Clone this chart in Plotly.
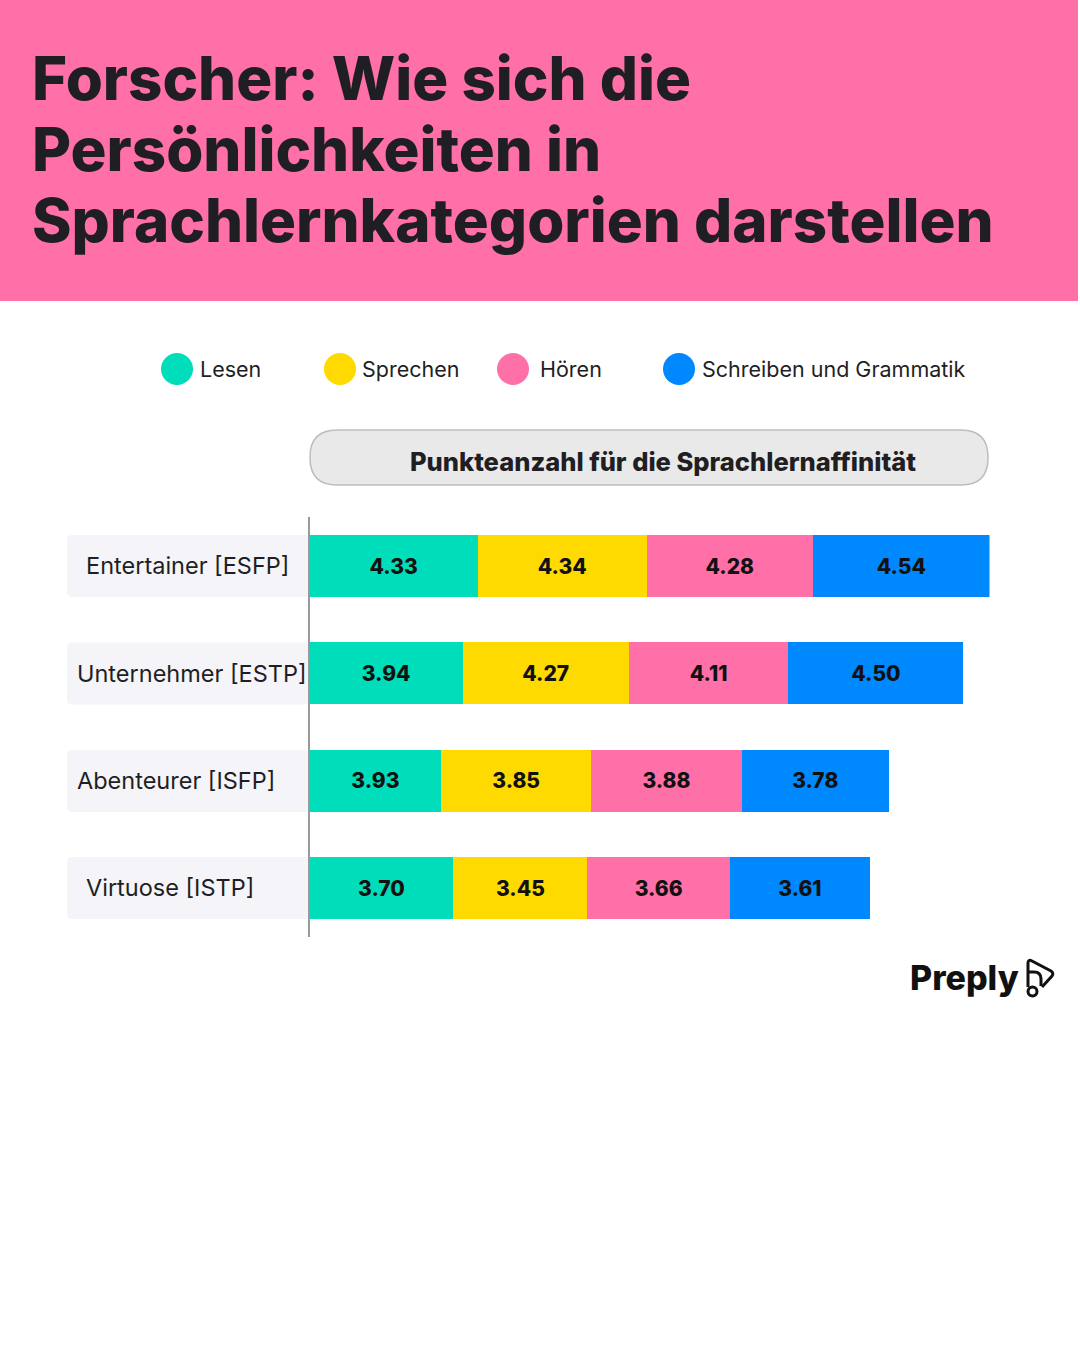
import plotly.graph_objects as go

W, H = 1080, 1350

title_lines = ["Forscher: Wie sich die", "Persönlichkeiten in", "Sprachlernkategorien darstellen"]
header_text = "Punkteanzahl für die Sprachlernaffinität"
categories = ["Entertainer [ESFP]", "Unternehmer [ESTP]", "Abenteurer [ISFP]", "Virtuose [ISTP]"]
series_names = ["Lesen", "Sprechen", "Hören", "Schreiben und Grammatik"]
# bar lengths as drawn in the picture
lesen = [4.33, 3.94, 3.39, 3.70]
sprechen = [4.34, 4.27, 3.85, 3.45]
hoeren = [4.28, 4.11, 3.88, 3.66]
schreiben = [4.54, 4.50, 3.78, 3.61]
# printed labels (Abenteurer/Lesen says 3.93 although its bar is shorter)
lesen_labels = ["4.33", "3.94", "3.93", "3.70"]
sprechen_labels = ["4.34", "4.27", "3.85", "3.45"]
hoeren_labels = ["4.28", "4.11", "3.88", "3.66"]
schreiben_labels = ["4.54", "4.50", "3.78", "3.61"]
colors = ["#00DDBB", "#FFDA00", "#FF6FA8", "#0088FF"]

FONT = "Inter"
DARK = "#1f1f23"


def px(x):
    return x / W


def py(y):
    return 1 - y / H


def pt(x, y):
    return f"{px(x):.5f},{py(y):.5f}"


def rounded(x0, y0, x1, y1, r):
    # rounded rectangle as svg path, pixel coords -> paper
    return (f"M{pt(x0 + r, y0)} L{pt(x1 - r, y0)} Q{pt(x1, y0)} {pt(x1, y0 + r)} "
            f"L{pt(x1, y1 - r)} Q{pt(x1, y1)} {pt(x1 - r, y1)} L{pt(x0 + r, y1)} "
            f"Q{pt(x0, y1)} {pt(x0, y1 - r)} L{pt(x0, y0 + r)} Q{pt(x0, y0)} {pt(x0 + r, y0)} Z")


fig = go.Figure()

all_series = [lesen, sprechen, hoeren, schreiben]
all_labels = [lesen_labels, sprechen_labels, hoeren_labels, schreiben_labels]
for name, vals, labels, color in zip(series_names, all_series, all_labels, colors):
    fig.add_trace(go.Bar(
        y=categories, x=vals, name=name, orientation="h",
        marker=dict(color=color, line=dict(width=0)),
        text=labels, textposition="inside", insidetextanchor="middle",
        textangle=0, constraintext="none",
        textfont=dict(family=FONT, size=21, color="#111111", weight=800),
        showlegend=False, hoverinfo="text+y",
    ))

shapes = [
    # pink header band
    dict(type="rect", xref="paper", yref="paper", x0=0, x1=px(1078), y0=py(301), y1=1,
         fillcolor=colors[2], line_width=0, layer="below"),
    # pill above the bars
    dict(type="path", xref="paper", yref="paper", path=rounded(310, 430, 988, 485, 27),
         fillcolor="#e9e9e9", line=dict(color="#bdbdbd", width=1.5), layer="below"),
]

annotations = []
for i, line in enumerate(title_lines):
    annotations.append(dict(text=line, x=px(30), y=py(78 + i * 71), xanchor="left", yanchor="middle",
                            font=dict(family=FONT, size=60, color=DARK, weight=800)))

annotations.append(dict(text=header_text, x=px(663), y=py(461), xanchor="center", yanchor="middle",
                        font=dict(family=FONT, size=25.5, color=DARK, weight=800)))

# legend row
legend_cx = [177, 340, 513, 679]
legend_tx = [198, 360, 538, 700]
for name, color, cx, tx in zip(series_names, colors, legend_cx, legend_tx):
    shapes.append(dict(type="circle", xref="paper", yref="paper", x0=px(cx - 16), x1=px(cx + 16),
                       y0=py(385), y1=py(353), fillcolor=color, line_width=0))
    annotations.append(dict(text=name, x=px(tx), y=py(369), xanchor="left", yanchor="middle",
                            font=dict(family=FONT, size=21.5, color=DARK)))

# row labels on light plates
label_x = [84, 75, 75, 84]
row_y = [566, 673.5, 781, 888]
for cat, lx, ry in zip(categories, label_x, row_y):
    shapes.append(dict(type="path", xref="paper", yref="paper", path=rounded(67, ry - 31, 309, ry + 31, 5),
                       fillcolor="#f4f4f9", line_width=0, layer="below"))
    annotations.append(dict(text=cat, x=px(lx), y=py(ry - 0.5), xanchor="left", yanchor="middle",
                            font=dict(family=FONT, size=23.5, color=DARK)))

# logo
annotations.append(dict(text="Preply", x=px(1021), y=py(977), xanchor="right", yanchor="middle",
                        font=dict(family=FONT, size=34, color="#111111", weight=800)))
logo = [
    f"M{pt(1028, 987)} L{pt(1028, 963)} Q{pt(1028, 959)} {pt(1032, 961)} L{pt(1051, 971)} "
    f"Q{pt(1054, 973)} {pt(1052, 976)} L{pt(1042, 987)}",
    f"M{pt(1028, 972)} L{pt(1034, 972)} Q{pt(1041, 972)} {pt(1041, 979)} L{pt(1041, 986)}",
]
for path in logo:
    shapes.append(dict(type="path", xref="paper", yref="paper", path=path,
                       line=dict(color="#111111", width=3)))
shapes.append(dict(type="circle", xref="paper", yref="paper", x0=px(1028), x1=px(1037),
                   y0=py(996), y1=py(987), line=dict(color="#111111", width=3)))

fig.update_layout(
    width=W, height=H, autosize=False, barmode="stack", bargap=0.4224,
    margin=dict(l=0, r=0, t=0, b=0),
    paper_bgcolor="white", plot_bgcolor="white",
    font=dict(family=FONT),
    xaxis=dict(domain=[px(309.5), px(989.5)], range=[0, 17.49], visible=False, fixedrange=True),
    yaxis=dict(domain=[py(937), py(517)], range=[3.4565, -0.4565], showticklabels=False, ticks="",
               showgrid=False, zeroline=False, showline=True, linecolor="#9a9a9a", linewidth=2, fixedrange=True),
    shapes=shapes,
    annotations=[dict(a, xref="paper", yref="paper", showarrow=False) for a in annotations],
)

fig.write_html("out.html", config={"displayModeBar": False}, post_script="document.body.style.margin='0';")
